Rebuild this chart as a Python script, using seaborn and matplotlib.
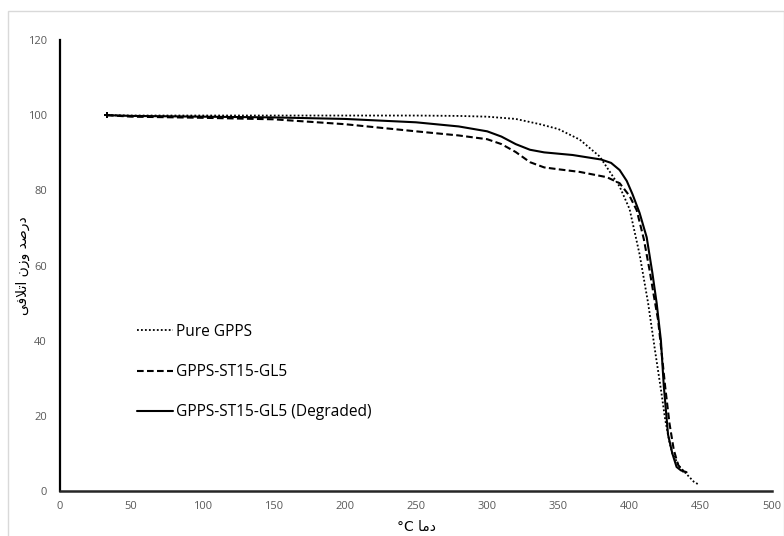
import matplotlib
matplotlib.use("Agg")
import matplotlib.pyplot as plt
from matplotlib.patches import Rectangle
import seaborn as sns
import pandas as pd

# ---------------- data ----------------
pure_x = [33, 50, 100, 150, 200, 250, 280, 300, 320, 337, 350, 365, 379, 393, 400,
          407, 413, 418, 422, 425, 428, 430, 435, 440, 445, 449]
pure_y = [100, 99.9, 99.9, 99.9, 99.9, 99.9, 99.8, 99.6, 99.0, 97.6, 96.3, 93.5, 89.0,
          81.0, 75.0, 63.0, 50.0, 37.0, 27.0, 19.0, 13.0, 10.0, 6.5, 4.5, 2.5, 1.6]

gl5_x = [33, 50, 100, 150, 200, 250, 280, 300, 310, 320, 330, 340, 350, 365, 384,
         393, 400, 405, 410, 414, 417, 420, 423, 425, 428, 431, 434, 438]
gl5_y = [100, 99.6, 99.3, 98.9, 97.6, 95.7, 94.6, 93.6, 92.3, 90.2, 87.5, 86.1, 85.6,
         84.9, 83.5, 81.9, 78.5, 74.7, 67.0, 58.8, 52.0, 45.5, 35.0, 27.7, 18.0, 11.0,
         7.0, 5.0]

deg_x = [33, 50, 100, 150, 200, 250, 280, 300, 310, 320, 330, 340, 360, 380, 387,
         393, 398, 402, 407, 412, 416, 419, 422, 424, 427, 430, 433, 436, 440]
deg_y = [100, 99.8, 99.6, 99.4, 99.0, 98.1, 97.0, 95.7, 94.3, 92.3, 90.8, 90.1, 89.4,
         88.2, 87.3, 85.4, 82.5, 79.0, 74.0, 67.5, 58.0, 50.0, 40.0, 28.0, 15.0, 10.0,
         6.4, 5.5, 5.0]

series_names = ["Pure GPPS", "GPPS-ST15-GL5", "GPPS-ST15-GL5 (Degraded)"]
x_ticks = [0, 50, 100, 150, 200, 250, 300, 350, 400, 450, 500]
y_ticks = [0, 20, 40, 60, 80, 100, 120]

y_label_text = "درصد وزن اتلافی"
x_label_word = "دما"
x_label_unit = "°C"

# -------- minimal Persian shaping (presentation forms) --------
FORMS = {  # isolated, final, initial, medial
    'ا': ('\uFE8D', '\uFE8E', None, None),
    'د': ('\uFEA9', '\uFEAA', None, None),
    'ر': ('\uFEAD', '\uFEAE', None, None),
    'ز': ('\uFEAF', '\uFEB0', None, None),
    'و': ('\uFEED', '\uFEEE', None, None),
    'ص': ('\uFEB9', '\uFEBA', '\uFEBB', '\uFEBC'),
    'ن': ('\uFEE5', '\uFEE6', '\uFEE7', '\uFEE8'),
    'ت': ('\uFE95', '\uFE96', '\uFE97', '\uFE98'),
    'ل': ('\uFEDD', '\uFEDE', '\uFEDF', '\uFEE0'),
    'ف': ('\uFED1', '\uFED2', '\uFED3', '\uFED4'),
    'ی': ('\uFBFC', '\uFBFD', '\uFBFE', '\uFBFF'),
    'م': ('\uFEE1', '\uFEE2', '\uFEE3', '\uFEE4'),
}
LAMALEF = ('\uFEFB', '\uFEFC')


def joins_left(ch):
    return ch in FORMS and FORMS[ch][2] is not None


def shape_word(w):
    out = []
    i = 0
    while i < len(w):
        ch = w[i]
        prev_join = i > 0 and joins_left(w[i - 1])
        if ch == 'ل' and i + 1 < len(w) and w[i + 1] == 'ا':
            out.append(LAMALEF[1] if prev_join else LAMALEF[0])
            i += 2
            continue
        nxt = i + 1 < len(w) and w[i + 1] in FORMS
        iso, fin, ini, med = FORMS[ch]
        if ini is None:
            out.append(fin if prev_join else iso)
        else:
            if prev_join and nxt:
                out.append(med)
            elif prev_join:
                out.append(fin)
            elif nxt:
                out.append(ini)
            else:
                out.append(iso)
        i += 1
    return ''.join(reversed(out))


def rtl(text):
    return ' '.join(shape_word(w) for w in reversed(text.split(' ')))


# ---------------- plot ----------------
sns.set_theme(style="white")
plt.rcParams['font.family'] = ['Open Sans', 'DejaVu Sans']

fig = plt.figure(figsize=(7.84, 5.36), dpi=100)
ax = fig.add_axes([60 / 784, 45 / 536, 712 / 784, 451 / 536])

df = pd.concat([
    pd.DataFrame({"x": pure_x, "y": pure_y, "s": series_names[0]}),
    pd.DataFrame({"x": gl5_x, "y": gl5_y, "s": series_names[1]}),
    pd.DataFrame({"x": deg_x, "y": deg_y, "s": series_names[2]}),
])

styles = {
    series_names[0]: dict(ls=(0, (1, 1.2)), lw=1.3),
    series_names[1]: dict(ls=(0, (3.2, 1.6)), lw=1.5),
    series_names[2]: dict(ls='-', lw=1.5),
}
for name in series_names:
    sub = df[df["s"] == name]
    sns.lineplot(data=sub, x="x", y="y", ax=ax, color="black", sort=False,
                 label=name, estimator=None, **styles[name])
    ax.plot(sub["x"].iloc[:1], sub["y"].iloc[:1], marker="+", color="black",
            ms=5, mew=1.2, ls="none", label="_nolegend_")

ax.set_xlim(0, 500)
ax.set_ylim(0, 120)
ax.set_xticks(x_ticks)
ax.set_yticks(y_ticks)
ax.tick_params(axis='both', length=0, labelsize=8, labelcolor="#595959")
ax.tick_params(axis='y', pad=9.5)
ax.tick_params(axis='x', pad=7)

for s in ["top", "right"]:
    ax.spines[s].set_visible(False)
ax.spines["left"].set_color("black")
ax.spines["left"].set_linewidth(1.6)
ax.spines["bottom"].set_color("#262626")
ax.spines["bottom"].set_linewidth(1.8)

ax.set_ylabel(rtl(y_label_text), family=['DejaVu Sans'], fontsize=10, color="black")
ax.yaxis.set_label_coords(-0.042, 0.5)
ax.set_xlabel(x_label_unit + " " + rtl(x_label_word), family=['DejaVu Sans'],
              fontsize=10, color="black")
ax.xaxis.set_label_coords(0.5, -0.065)

leg = ax.legend(loc="center left", bbox_to_anchor=((137 - 60) / 712, (491 - 372) / 451),
                frameon=False, fontsize=11.2, handlelength=2.3, handletextpad=0.22,
                labelspacing=1.55, borderpad=0, borderaxespad=0)
for t in leg.get_texts():
    t.set_color("black")

fig.patches.append(Rectangle((7.5 / 784, -0.01), 1 - 8 / 784, 1 - 11 / 536 + 0.01,
                             transform=fig.transFigure, fill=False,
                             edgecolor="#d9d9d9", lw=1.0))

fig.savefig("out.png", dpi=100)
